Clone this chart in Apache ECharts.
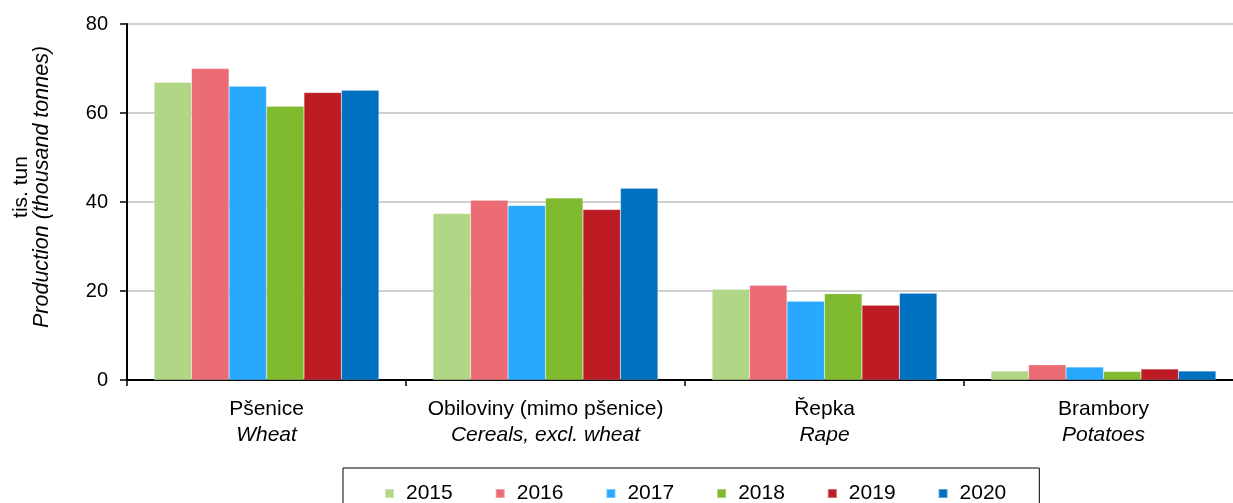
<!DOCTYPE html>
<html>
<head>
<meta charset="utf-8">
<script src="https://cdn.jsdelivr.net/npm/echarts@6/dist/echarts.min.js"></script>
<style>html,body{margin:0;padding:0;background:#fff;overflow:hidden;width:1233px;height:503px}#c{width:1250px;height:503px}</style>
</head>
<body>
<div id="c"></div>
<script>
const categoriesCz = ['Pšenice', 'Obiloviny (mimo pšenice)', 'Řepka', 'Brambory'];
const categoriesEn = ['Wheat', 'Cereals, excl. wheat', 'Rape', 'Potatoes'];
const years = ['2015', '2016', '2017', '2018', '2019', '2020'];
const v2015 = [66.9, 37.4, 20.4, 2.0];
const v2016 = [70.0, 40.4, 21.3, 3.4];
const v2017 = [66.0, 39.2, 17.7, 2.9];
const v2018 = [61.5, 40.9, 19.4, 1.9];
const v2019 = [64.6, 38.3, 16.8, 2.5];
const v2020 = [65.1, 43.1, 19.5, 2.0];
const yTicks = [0, 20, 40, 60, 80];

const values = [v2015, v2016, v2017, v2018, v2019, v2020];
const colors = ['#B1D685', '#EB6C74', '#29A8FF', '#7FBA2F', '#BD1C24', '#0070C0'];
const font = 'Liberation Sans, Arial, sans-serif';

const chart = echarts.init(document.getElementById('c'), null, {renderer: 'canvas'});
chart.setOption({
  animation: false,
  backgroundColor: '#fff',
  textStyle: {fontFamily: font},
  grid: {left: 127, top: 24, right: 7, bottom: 123, containLabel: false},
  legend: {
    data: years,
    left: 343, top: 468,
    padding: [15, 33, 30, 41],
    borderColor: '#000', borderWidth: 1,
    itemWidth: 9, itemHeight: 9, itemGap: 42,
    icon: 'rect',
    textStyle: {fontFamily: font, fontSize: 21, color: '#000', padding: [0, 0, 0, 7]}
  },
  graphic: [{
    type: 'text',
    x: 32, y: 187,
    rotation: Math.PI / 2,
    style: {
      text: '{a|tis. tun}\n{b|Production (thousand tonnes)}',
      textAlign: 'center', textVerticalAlign: 'middle',
      rich: {
        a: {fontFamily: font, fontSize: 21, lineHeight: 21, fill: '#000', align: 'center'},
        b: {fontFamily: font, fontSize: 21.5, fontStyle: 'italic', lineHeight: 21, fill: '#000', align: 'center'}
      }
    }
  }],
  xAxis: {
    type: 'category',
    data: categoriesCz.map((c, i) => c + '\n' + categoriesEn[i]),
    axisLine: {lineStyle: {color: '#000', width: 2}},
    axisTick: {show: true, length: 6, lineStyle: {color: '#000', width: 1.5}},
    axisLabel: {
      margin: 16, interval: 0,
      formatter: function (v) { const p = v.split('\n'); return '{a|' + p[0] + '}\n{b|' + p[1] + '}'; },
      rich: {
        a: {fontFamily: font, fontSize: 21, color: '#000', lineHeight: 26},
        b: {fontFamily: font, fontSize: 21, color: '#000', fontStyle: 'italic', lineHeight: 26}
      }
    }
  },
  yAxis: {
    type: 'value', min: yTicks[0], max: yTicks[yTicks.length - 1], interval: 20,
    axisLine: {show: true, lineStyle: {color: '#000', width: 2}},
    axisTick: {show: true, length: 7, lineStyle: {color: '#000', width: 1.5}},
    axisLabel: {fontFamily: font, fontSize: 20, color: '#000', margin: 19},
    splitLine: {lineStyle: {color: '#C0C0C0', width: 1.5}}
  },
  series: years.map((y, i) => ({
    name: y, type: 'bar', data: values[i],
    barGap: '0%', barCategoryGap: '19.4%',
    itemStyle: {color: colors[i], borderColor: 'rgba(255,255,255,0.35)', borderWidth: 0.5}
  }))
});
</script>
</body>
</html>
